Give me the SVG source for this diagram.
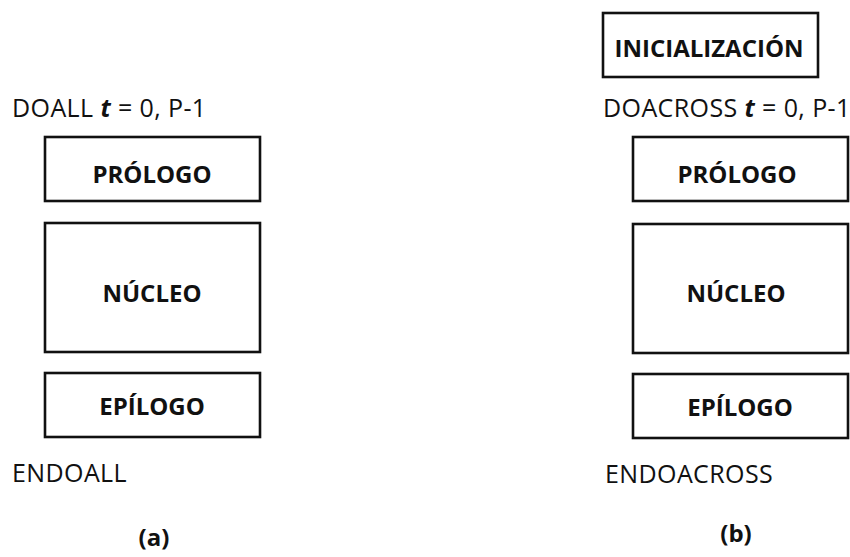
<svg xmlns="http://www.w3.org/2000/svg" width="850" height="557" viewBox="0 0 850 557">
<style>
.box{fill:#fff;stroke:#111;stroke-width:2.6}
.lbl{font-family:"Open Sans","Noto Sans",sans-serif;font-weight:bold;font-size:24px;fill:#111;text-anchor:middle}
.txt{font-family:"Open Sans","Noto Sans",sans-serif;font-size:25px;letter-spacing:0.4px;fill:#111}
.it{font-style:italic;font-weight:bold}
</style>
<rect width="850" height="557" fill="#fff"/>
<g id="connectors"></g>
<g id="panel-a">
  <text class="txt" x="12" y="117">DOALL <tspan class="it">t</tspan> = 0, P-1</text>
  <g id="a-prologo"><rect class="box" x="45" y="137" width="215" height="64"/><text class="lbl" x="152" y="183">PRÓLOGO</text></g>
  <g id="a-nucleo"><rect class="box" x="45" y="223" width="215" height="129"/><text class="lbl" x="152" y="302">NÚCLEO</text></g>
  <g id="a-epilogo"><rect class="box" x="45" y="373" width="215" height="64"/><text class="lbl" x="152" y="415">EPÍLOGO</text></g>
  <text class="txt" x="12" y="482">ENDOALL</text>
  <text class="lbl" x="154" y="546">(a)</text>
</g>
<g id="panel-b">
  <g id="b-inicializacion"><rect class="box" x="603" y="13" width="215" height="64"/><text class="lbl" x="709" y="57">INICIALIZACIÓN</text></g>
  <text class="txt" x="603" y="117">DOACROSS <tspan class="it">t</tspan> = 0, P-1</text>
  <g id="b-prologo"><rect class="box" x="633" y="137" width="215" height="64"/><text class="lbl" x="737" y="183">PRÓLOGO</text></g>
  <g id="b-nucleo"><rect class="box" x="633" y="224" width="215" height="129"/><text class="lbl" x="736" y="302">NÚCLEO</text></g>
  <g id="b-epilogo"><rect class="box" x="633" y="374" width="215" height="64"/><text class="lbl" x="740" y="416">EPÍLOGO</text></g>
  <text class="txt" x="605" y="483">ENDOACROSS</text>
  <text class="lbl" x="736" y="542">(b)</text>
</g>
</svg>
